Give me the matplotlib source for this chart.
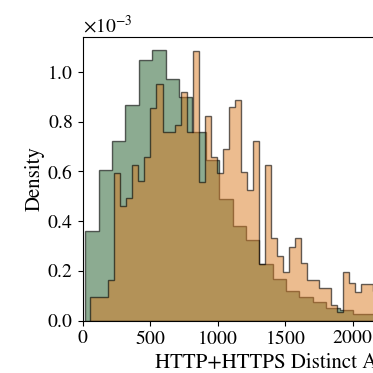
import numpy as np
import matplotlib
matplotlib.use("Agg")
import matplotlib.pyplot as plt

plt.rcParams['font.family'] = ['STIXGeneral', 'DejaVu Serif']
plt.rcParams['mathtext.fontset'] = 'stix'
plt.rcParams['axes.formatter.use_mathtext'] = True

# Green series (density, units of 1e-3), equal-width bins
green_start = 19.3
green_width = 99.15
green_density = [0.361, 0.605, 0.723, 0.867, 1.048, 1.088, 0.971, 0.900, 0.756, 0.647,
                 0.489, 0.380, 0.322, 0.226, 0.167, 0.120, 0.094, 0.073, 0.049, 0.044,
                 0.025, 0.025, 0.018, 0.012]

# Orange series (density, units of 1e-3), equal-width bins
orange_start = 56.3
orange_width = 44.57
orange_density = [0.096, 0.096, 0.096, 0.163, 0.592, 0.459, 0.493, 0.625, 0.560, 0.656,
                  0.853, 0.950, 0.756, 0.756, 0.786, 0.917, 0.756, 1.084, 0.558, 0.823,
                  0.656, 0.593, 0.689, 0.857, 0.886, 0.596, 0.526, 0.723, 0.226, 0.625,
                  0.332, 0.261, 0.197, 0.295, 0.332, 0.230, 0.163, 0.163, 0.131, 0.131,
                  0.063, 0.033, 0.195, 0.150, 0.115, 0.145, 0.145, 0.120, 0.100, 0.090]

xlabel_text = "HTTP+HTTPS Distinct ASes"
ylabel_text = "Density"
x_ticks = [0, 500, 1000, 1500, 2000, 2500, 3000]

scale = 1e-3

fig = plt.figure(figsize=(3.73, 3.73), dpi=100)
x_max = 3000
px_per_unit = 0.1350
width_frac = x_max * px_per_unit / 373
ax = fig.add_axes([82.7 / 373, 52.5 / 373, width_frac, 283.8 / 373])

g_edges = green_start + green_width * np.arange(len(green_density) + 1)
o_edges = orange_start + orange_width * np.arange(len(orange_density) + 1)
g_centers = (g_edges[:-1] + g_edges[1:]) / 2
o_centers = (o_edges[:-1] + o_edges[1:]) / 2

ax.hist(g_centers, bins=g_edges, weights=np.array(green_density) * scale,
        histtype='stepfilled', facecolor=(0.10, 0.35, 0.14, 0.5),
        edgecolor=(0, 0, 0, 0.6), linewidth=1.0)
ax.hist(o_centers, bins=o_edges, weights=np.array(orange_density) * scale,
        histtype='stepfilled', facecolor=(0.86, 0.48, 0.13, 0.5),
        edgecolor=(0, 0, 0, 0.6), linewidth=1.0)

ax.set_xlim(0, x_max)
ax.set_ylim(0, 1.141e-3)
ax.set_xticks(x_ticks)
ax.ticklabel_format(axis='y', style='sci', scilimits=(0, 0))
ax.tick_params(labelsize=14)
ax.yaxis.get_offset_text().set_fontsize(14)
ax.set_ylabel(ylabel_text, fontsize=15, labelpad=1.5)
ax.set_xlabel(xlabel_text, fontsize=15, ha='left', labelpad=3)
ax.xaxis.label.set_x((155 - 82.7) / (x_max * px_per_unit))

fig.savefig("out.png", dpi=100)
